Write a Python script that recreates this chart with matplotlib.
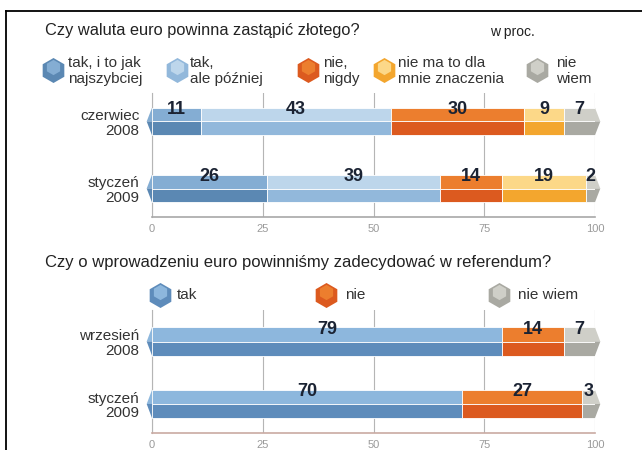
import matplotlib.pyplot as plt
import numpy as np

# pytanie 1: Czy waluta euro powinna zastąpić złotego?
q1_periods = ["czerwiec\n2008", "styczeń\n2009"]
q1_legend = ["tak, i to jak\nnajszybciej", "tak,\nale później", "nie,\nnigdy",
             "nie ma to dla\nmnie znaczenia", "nie\nwiem"]
q1_fast = [11, 26]
q1_later = [43, 39]
q1_never = [30, 14]
q1_nomatter = [9, 19]
q1_dontknow = [7, 2]

# pytanie 2: Czy o wprowadzeniu euro powinniśmy zadecydować w referendum?
q2_periods = ["wrzesień\n2008", "styczeń\n2009"]
q2_legend = ["tak", "nie", "nie wiem"]
q2_yes = [79, 70]
q2_no = [14, 27]
q2_dontknow = [7, 3]

x_ticks = [0, 25, 50, 75, 100]

q1_top = ["#84add3", "#bdd6eb", "#ec7e2e", "#fcd888", "#cfcfc8"]
q1_bot = ["#5b88b3", "#92b8db", "#dc5a1f", "#f3a62e", "#a9a9a2"]
q2_top = ["#8db7dd", "#ec7e2e", "#cfcfc8"]
q2_bot = ["#5e8cbb", "#dc5a1f", "#a9a9a2"]

plt.rcParams['font.family'] = ['Liberation Sans', 'DejaVu Sans']

fig = plt.figure(figsize=(6.42, 4.5), dpi=100)
W, H = 642, 450

# warstwa do tekstów w pikselach
bg = fig.add_axes([0, 0, 1, 1])
bg.set_xlim(0, W)
bg.set_ylim(H, 0)
bg.axis('off')
bg.plot([6, W], [11, 11], color='black', lw=1.3)
bg.plot([6, 6], [11, H], color='black', lw=1.3)


def pix_axes(left, top, right, bottom):
    return fig.add_axes([left / W, 1 - bottom / H, (right - left) / W, (bottom - top) / H])


def stacked(ax, periods, series, tops, bots, h, ylim, axis_color):
    y = np.arange(len(periods))
    left = np.zeros(len(periods))
    for vals, ct, cb in zip(series, tops, bots):
        vals = np.array(vals, dtype=float)
        ax.barh(y - h / 4, vals, height=h / 2, left=left, color=ct,
                edgecolor='white', linewidth=0.6, zorder=3)
        ax.barh(y + h / 4, vals, height=h / 2, left=left, color=cb,
                edgecolor='white', linewidth=0.6, zorder=3)
        for yi, li, v in zip(y, left, vals):
            ax.text(li + v / 2, yi - h / 2 + 0.03, f"{int(v)}", ha='center', va='center',
                    fontsize=13, fontweight='bold', color='#1b2333', zorder=5)
        left += vals
    # zaostrzone końce pasków
    for yi, total in zip(y, left):
        for yy, col_l, col_r in [(yi - h / 4, tops[0], tops[-1]), (yi + h / 4, bots[0], bots[-1])]:
            sgn = -1 if yy < yi else 1
            ax.fill([0, -1.2, 0], [yy - sgn * h / 4, yi, yy + sgn * h / 4], color=col_l,
                    lw=0, clip_on=False, zorder=3)
            ax.fill([total, total + 1.2, total], [yy - sgn * h / 4, yi, yy + sgn * h / 4],
                    color=col_r, lw=0, clip_on=False, zorder=3)
    ax.set_xlim(0, 100)
    ax.set_ylim(*ylim)
    ax.set_yticks(y)
    ax.set_yticklabels(periods, fontsize=11, color='#333333', linespacing=1.05)
    ax.set_xticks(x_ticks)
    ax.set_xticklabels([str(t) for t in x_ticks], fontsize=8, color='#9a9a9a')
    ax.tick_params(axis='both', length=0)
    ax.tick_params(axis='y', pad=9)
    ax.tick_params(axis='x', pad=5)
    ax.grid(axis='x', color='#b5b5b5', lw=0.8, zorder=0)
    for s in ['top', 'right']:
        ax.spines[s].set_visible(False)
    ax.spines['left'].set_color('#b5b5b5')
    ax.spines['bottom'].set_color(axis_color)
    ax.spines['bottom'].set_linewidth(1.2)


ax1 = pix_axes(152, 93, 595, 217)
stacked(ax1, q1_periods, [q1_fast, q1_later, q1_never, q1_nomatter, q1_dontknow],
        q1_top, q1_bot, 0.41, (1.425, -0.425), '#a8a8a8')

ax2 = pix_axes(152, 310, 595, 433)
stacked(ax2, q2_periods, [q2_yes, q2_no, q2_dontknow],
        q2_top, q2_bot, 0.45, (1.464, -0.504), '#c9aaa2')

# tytuły
bg.text(45, 30, "Czy waluta euro powinna zastąpić złotego?", fontsize=11.8,
        color='#222222', va='center')
bg.text(490, 32, "w proc.", fontsize=10, color='#222222', va='center')
bg.text(45, 262, "Czy o wprowadzeniu euro powinniśmy zadecydować w referendum?",
        fontsize=12, color='#222222', va='center')


def icon(x, y, ct, cb):
    bg.plot(x, y, marker='h', markersize=18, color=cb, markeredgewidth=0)
    bg.plot(x, y - 3, marker='h', markersize=11, color=ct, markeredgewidth=0)


# legenda 1
q1_icon_x = [53, 177, 308, 384, 537]
q1_text_x = [68, 190, 323, 398, 556]
for lab, ix, tx, ct, cb in zip(q1_legend, q1_icon_x, q1_text_x, q1_top, q1_bot):
    icon(ix, 70, ct, cb)
    bg.text(tx, 71, lab, fontsize=11, color='#333333', va='center', linespacing=1.2)

# legenda 2
q2_icon_x = [160, 326, 499]
q2_text_x = [177, 345, 518]
for lab, ix, tx, ct, cb in zip(q2_legend, q2_icon_x, q2_text_x, q2_top, q2_bot):
    icon(ix, 295, ct, cb)
    bg.text(tx, 295, lab, fontsize=11, color='#333333', va='center')

fig.savefig("out.png", dpi=100)
